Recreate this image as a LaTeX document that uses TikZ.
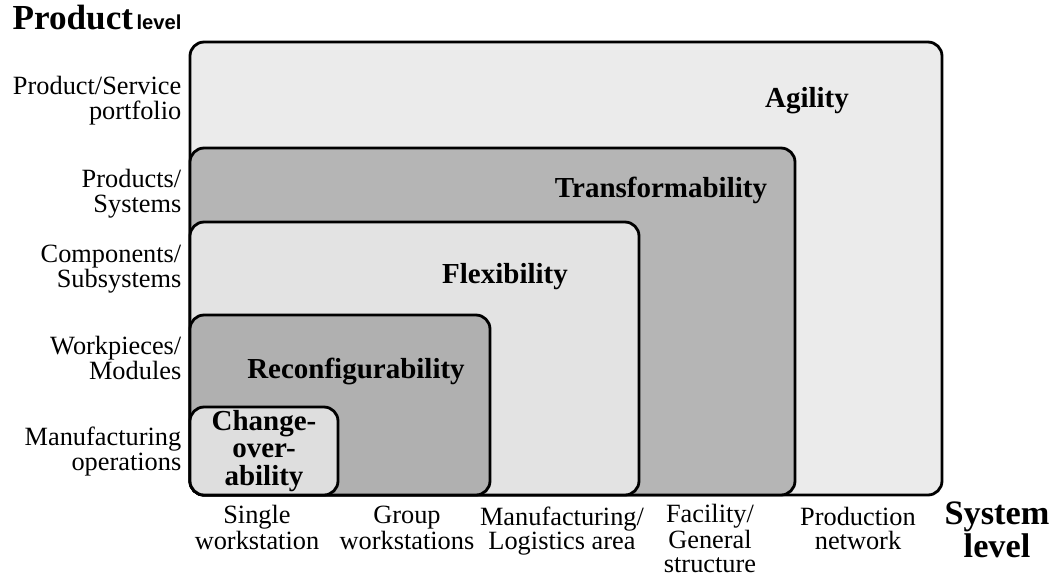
\documentclass[tikz,border=0pt]{standalone}
\usepackage{fontspec}
\setmainfont{Liberation Serif}
\setsansfont{Liberation Sans}
\usetikzlibrary{positioning}

\begin{document}
\begin{tikzpicture}[x=0.02cm, y=-0.02cm, thick,
  area/.style={draw=black, line width=1.6pt, rounded corners=8pt},
  lightarea/.style={area, fill=gray!22},
  darkarea/.style={area, fill=gray!58},
  rowlabel/.style={inner sep=0pt, anchor=base east, align=right, font=\fontsize{15}{14}\selectfont},
  collabel/.style={inner sep=0pt, anchor=base, align=center, font=\fontsize{15}{13.6}\selectfont},
  arealabel/.style={inner sep=0pt, anchor=base, align=center, font=\bfseries\fontsize{16.5}{15.6}\selectfont}]
\useasboundingbox (0,0) rectangle (1054,576);

% nested areas, largest first
\draw [lightarea, fill=gray!16] (190,42) rectangle (942,495);
\draw [darkarea] (190,148) rectangle (795,495);
\draw [lightarea] (190,222) rectangle (639,495);
\draw [darkarea, fill=gray!62] (190,315) rectangle (490,495);
\draw [lightarea, fill=gray!26] (190,407) rectangle (338,495);

% base of a multi-line node = its last line
\node (agility) [arealabel] at (807,107) {Agility};
\node (transform) [arealabel] at (661,197) {Transformability};
\node (flex) [arealabel] at (505,283) {Flexibility};
\node (reconf) [arealabel] at (356,378) {Reconfigurability};
\node (changeover) [arealabel] at (264,485) {Change-\\over-\\ability};

% product level axis
\node (prodlevel) [inner sep=0pt, anchor=base west] at (12,29)
  {\fontsize{20}{24}\selectfont\bfseries Product\hspace{2pt}{\sffamily\fontsize{11.5}{14}\selectfont level}};
\node (portfolio) [rowlabel] at (182,119) {Product/Service\\portfolio};
\node (products) [rowlabel] at (182,212) {Products/\\Systems};
\node (components) [rowlabel] at (182,287) {Components/\\Subsystems};
\node (workpieces) [rowlabel] at (182,379) {Workpieces/\\Modules};
\node (operations) [rowlabel] at (182,470) {Manufacturing\\operations};

% system level axis
\node (single) [collabel] at (257,549) {Single\\workstation};
\node (group) [collabel] at (407,549) {Group\\workstations};
\node (logistics) [collabel] at (562,549) {Manufacturing/\\Logistics area};
\node (facility) [collabel] at (710,572) {Facility/\\General\\structure};
\node (network) [collabel] at (858,549) {Production\\network};
\node (syslevel) [inner sep=0pt, anchor=base, align=center, font=\bfseries\fontsize{19.5}{17.5}\selectfont] at (997,557) {System\\level};
\end{tikzpicture}
\end{document}
